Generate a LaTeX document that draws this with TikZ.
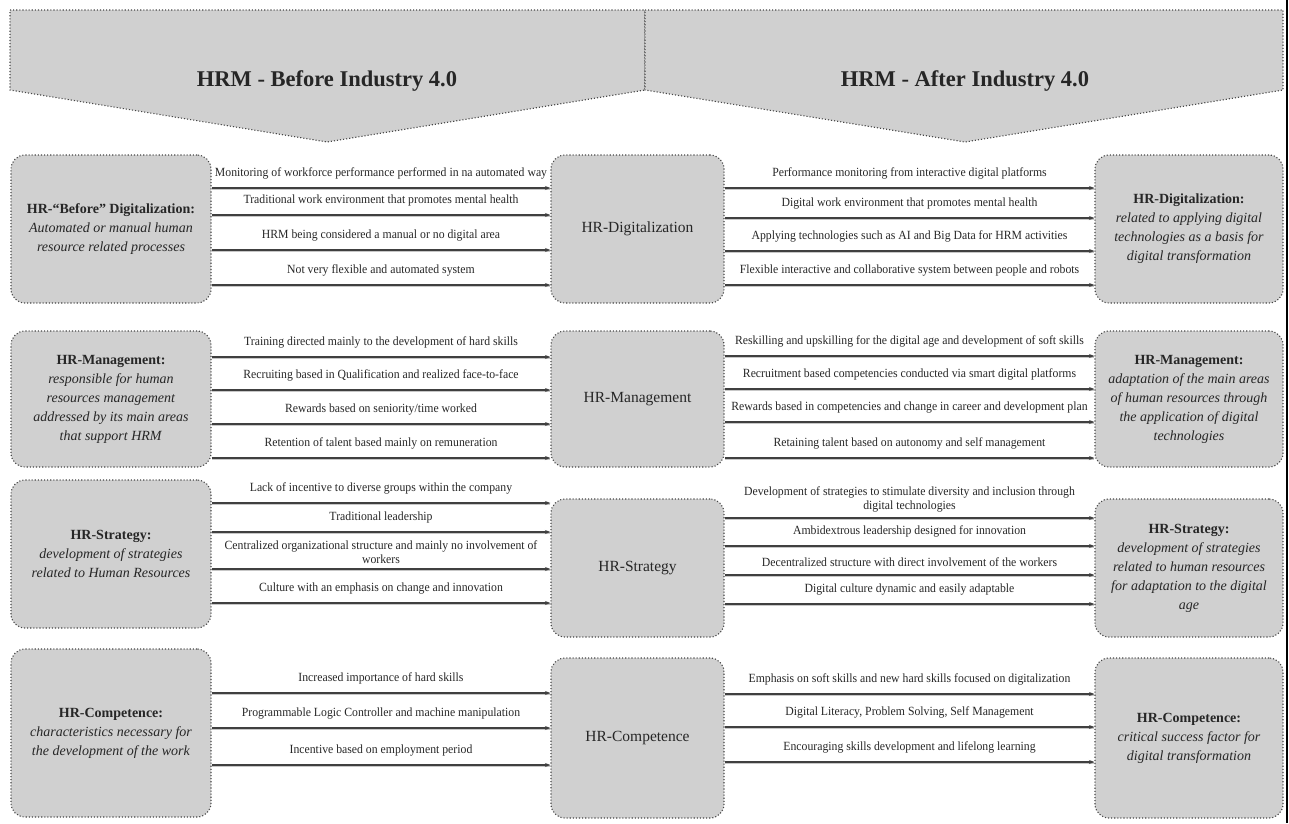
\documentclass[tikz,border=0pt]{standalone}
\usepackage{fontspec}
\setmainfont{Liberation Serif}
\newfontfamily\lblfont[FakeStretch=0.94]{Liberation Serif}
\usetikzlibrary{arrows.meta}
\definecolor{boxgray}{HTML}{D0D0D0}
\definecolor{edgegray}{HTML}{454545}
\definecolor{txt}{HTML}{262626}
\begin{document}
\begin{tikzpicture}[x=1pt,y=-1pt,
  chev/.style={draw=edgegray, dotted, line width=1.1pt, fill=boxgray},
  box/.style={draw=edgegray, dotted, line width=1.1pt, fill=boxgray, rounded corners=14pt,
    align=center, inner sep=2pt, text=txt, font=\fontsize{14}{19}\selectfont},
  midbox/.style={box, font=\fontsize{15.5}{19}\selectfont},
  arr/.style={-{Stealth[length=5.5pt,width=4pt]}, line width=1.2pt, draw=black!75,
    preaction={draw=black!22, line width=2.4pt, -, transform canvas={yshift=-1.2pt}}},
  lbl/.style={midway, inner sep=0pt, align=center, text=txt, font=\lblfont\fontsize{12.5}{14}\selectfont},
  lup/.style={lbl, above=8pt},
  ltwo/.style={lbl, above=5pt},
  title/.style={font=\bfseries\fontsize{22.5}{26}\selectfont, text=txt}]
\useasboundingbox (0,0) rectangle (1289,823);
% header chevrons
\path[chev] (10,10) -- (645,10) -- (645,90) -- (327,142) -- (10,90) -- cycle;
\path[chev] (645,10) -- (1283,10) -- (1283,90) -- (965,142) -- (645,90) -- cycle;
\node[title] (T1) at (327,81) {HRM - Before Industry 4.0};
\node[title] (T2) at (965,81) {HRM - After Industry 4.0};
\draw[line width=2pt] (1287,0) -- (1287,823);

% ---------- Row 1 ----------
\node[box, minimum width=200pt, minimum height=148pt] (L1) at (111,229)
  {\textbf{HR-“Before” Digitalization:}\\\textit{Automated or manual human}\\\textit{resource related processes}};
\node[midbox, minimum width=173pt, minimum height=148pt] (M1) at (637.5,229) {HR-Digitalization};
\node[box, minimum width=188pt, minimum height=148pt] (R1) at (1189,229)
  {\textbf{HR-Digitalization:}\\\textit{related to applying digital}\\\textit{technologies as a basis for}\\\textit{digital transformation}};
\draw[arr] (L1.east |- 0,188) -- node[lup]{Monitoring of workforce performance performed in na automated way} (M1.west |- 0,188);
\draw[arr] (L1.east |- 0,215) -- node[lup]{Traditional work environment that promotes mental health} (M1.west |- 0,215);
\draw[arr] (L1.east |- 0,250) -- node[lup]{HRM being considered a manual or no digital area} (M1.west |- 0,250);
\draw[arr] (L1.east |- 0,285) -- node[lup]{Not very flexible and automated system} (M1.west |- 0,285);
\draw[arr] (M1.east |- 0,188) -- node[lup]{Performance monitoring from interactive digital platforms} (R1.west |- 0,188);
\draw[arr] (M1.east |- 0,218) -- node[lup]{Digital work environment that promotes mental health} (R1.west |- 0,218);
\draw[arr] (M1.east |- 0,251) -- node[lup]{Applying technologies such as AI and Big Data for HRM activities} (R1.west |- 0,251);
\draw[arr] (M1.east |- 0,285) -- node[lup]{Flexible interactive and collaborative system between people and robots} (R1.west |- 0,285);

% ---------- Row 2 ----------
\node[box, minimum width=200pt, minimum height=136pt] (L2) at (111,399)
  {\textbf{HR-Management:}\\\textit{responsible for human}\\\textit{resources management}\\\textit{addressed by its main areas}\\\textit{that support HRM}};
\node[midbox, minimum width=173pt, minimum height=136pt] (M2) at (637.5,399) {HR-Management};
\node[box, minimum width=188pt, minimum height=136pt] (R2) at (1189,399)
  {\textbf{HR-Management:}\\\textit{adaptation of the main areas}\\\textit{of human resources through}\\\textit{the application of digital}\\\textit{technologies}};
\draw[arr] (L2.east |- 0,357) -- node[lup]{Training directed mainly to the development of hard skills} (M2.west |- 0,357);
\draw[arr] (L2.east |- 0,390) -- node[lup]{Recruiting based in Qualification and realized face-to-face} (M2.west |- 0,390);
\draw[arr] (L2.east |- 0,424) -- node[lup]{Rewards based on seniority/time worked} (M2.west |- 0,424);
\draw[arr] (L2.east |- 0,458) -- node[lup]{Retention of talent based mainly on remuneration} (M2.west |- 0,458);
\draw[arr] (M2.east |- 0,356) -- node[lup]{Reskilling and upskilling for the digital age and development of soft skills} (R2.west |- 0,356);
\draw[arr] (M2.east |- 0,389) -- node[lup]{Recruitment based competencies conducted via smart digital platforms} (R2.west |- 0,389);
\draw[arr] (M2.east |- 0,422) -- node[lup]{Rewards based in competencies and change in career and development plan} (R2.west |- 0,422);
\draw[arr] (M2.east |- 0,458) -- node[lup]{Retaining talent based on autonomy and self management} (R2.west |- 0,458);

% ---------- Row 3 ----------
\node[box, minimum width=200pt, minimum height=148pt] (L3) at (111,554)
  {\textbf{HR-Strategy:}\\\textit{development of strategies}\\\textit{related to Human Resources}};
\node[midbox, minimum width=173pt, minimum height=138pt] (M3) at (637.5,568) {HR-Strategy};
\node[box, minimum width=188pt, minimum height=138pt] (R3) at (1189,568)
  {\textbf{HR-Strategy:}\\\textit{development of strategies}\\\textit{related to human resources}\\\textit{for adaptation to the digital}\\\textit{age}};
\draw[arr] (L3.east |- 0,503) -- node[lup]{Lack of incentive to diverse groups within the company} (M3.west |- 0,503);
\draw[arr] (L3.east |- 0,532) -- node[lup]{Traditional leadership} (M3.west |- 0,532);
\draw[arr] (L3.east |- 0,569) -- node[ltwo]{Centralized organizational structure and mainly no involvement of\\workers} (M3.west |- 0,569);
\draw[arr] (L3.east |- 0,603) -- node[lup]{Culture with an emphasis on change and innovation} (M3.west |- 0,603);
\draw[arr] (M3.east |- 0,518) -- node[ltwo]{Development of strategies to stimulate diversity and inclusion through\\digital technologies} (R3.west |- 0,518);
\draw[arr] (M3.east |- 0,546) -- node[lup]{Ambidextrous leadership designed for innovation} (R3.west |- 0,546);
\draw[arr] (M3.east |- 0,575) -- node[lup]{Decentralized structure with direct involvement of the workers} (R3.west |- 0,575);
\draw[arr] (M3.east |- 0,604) -- node[lup]{Digital culture dynamic and easily adaptable} (R3.west |- 0,604);

% ---------- Row 4 ----------
\node[box, minimum width=200pt, minimum height=168pt] (L4) at (111,733)
  {\textbf{HR-Competence:}\\\textit{characteristics necessary for}\\\textit{the development of the work}};
\node[midbox, minimum width=173pt, minimum height=160pt] (M4) at (637.5,738) {HR-Competence};
\node[box, minimum width=188pt, minimum height=160pt] (R4) at (1189,738)
  {\textbf{HR-Competence:}\\\textit{critical success factor for}\\\textit{digital transformation}};
\draw[arr] (L4.east |- 0,693) -- node[lup]{Increased importance of hard skills} (M4.west |- 0,693);
\draw[arr] (L4.east |- 0,728) -- node[lup]{Programmable Logic Controller and machine manipulation} (M4.west |- 0,728);
\draw[arr] (L4.east |- 0,765) -- node[lup]{Incentive based on employment period} (M4.west |- 0,765);
\draw[arr] (M4.east |- 0,694) -- node[lup]{Emphasis on soft skills and new hard skills focused on digitalization} (R4.west |- 0,694);
\draw[arr] (M4.east |- 0,727) -- node[lup]{Digital Literacy, Problem Solving, Self Management} (R4.west |- 0,727);
\draw[arr] (M4.east |- 0,762) -- node[lup]{Encouraging skills development and lifelong learning} (R4.west |- 0,762);
\end{tikzpicture}
\end{document}
